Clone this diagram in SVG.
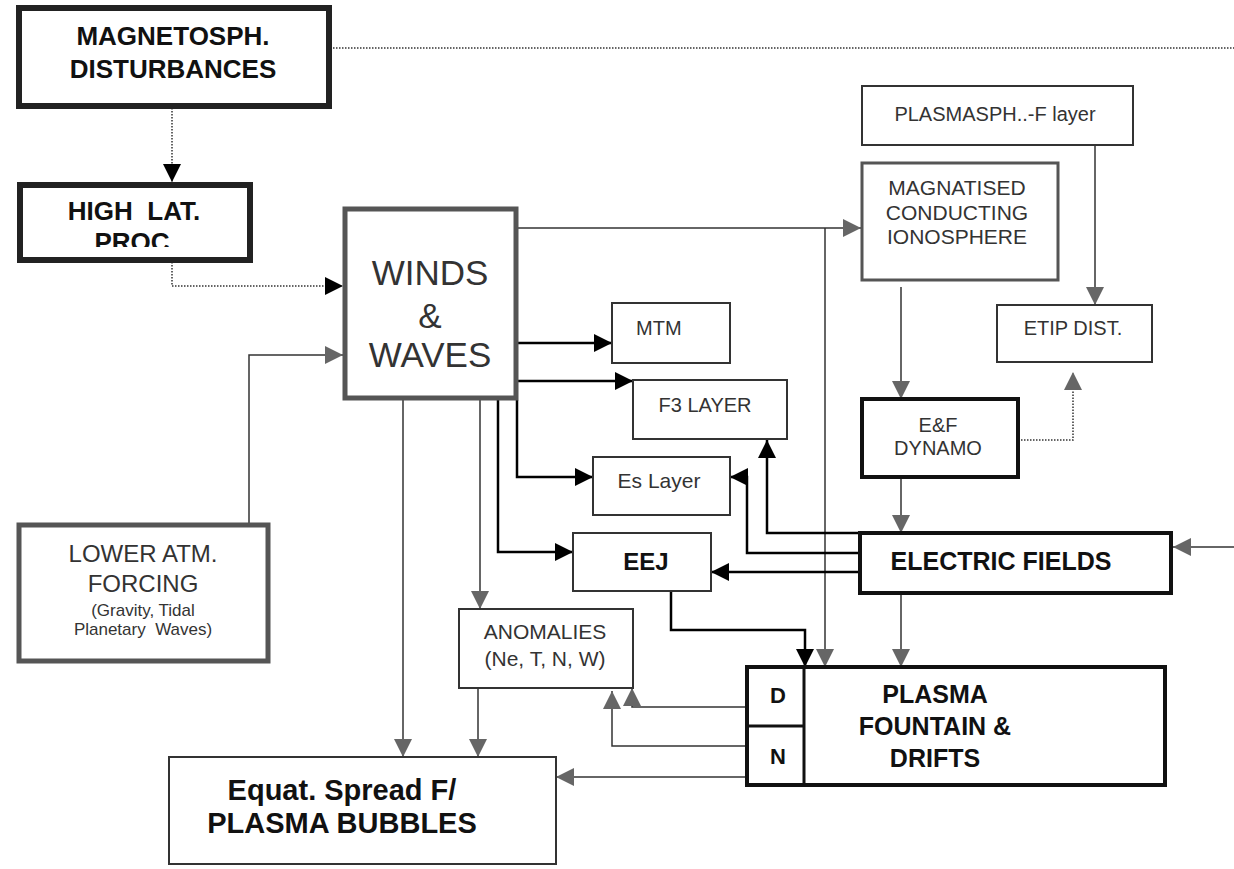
<svg xmlns="http://www.w3.org/2000/svg" width="1234" height="869" viewBox="0 0 1234 869">
<style>
.bg{fill:#fff}
.bx-thick{fill:#fff;stroke:#222;stroke-width:6}
.bx-gray{fill:#fff;stroke:#555;stroke-width:5}
.bx-mid{fill:#fff;stroke:#555;stroke-width:3}
.bx-thin{fill:#fff;stroke:#333;stroke-width:2}
.bx-blk{fill:#fff;stroke:#111;stroke-width:4}
.tb{font-family:"Liberation Sans",Arial,sans-serif;font-weight:bold;fill:#111;text-anchor:middle}
.tr{font-family:"Liberation Sans",Arial,sans-serif;fill:#333;text-anchor:middle}
.solid{fill:none;stroke:#000;stroke-width:2.5}
.thin{fill:none;stroke:#333;stroke-width:1.5}
.dot{fill:none;stroke:#333;stroke-width:1.5;stroke-dasharray:1.5 1.5}
</style>
<defs>
<marker id="ab" viewBox="0 0 10 10" refX="10" refY="5" markerWidth="18" markerHeight="18" markerUnits="userSpaceOnUse" orient="auto"><path d="M0,0 L10,5 L0,10 z" fill="#000"/></marker>
<marker id="ag" viewBox="0 0 10 10" refX="10" refY="5" markerWidth="18" markerHeight="18" markerUnits="userSpaceOnUse" orient="auto"><path d="M0,0 L10,5 L0,10 z" fill="#666"/></marker>
<clipPath id="procclip"><rect x="20" y="185" width="230" height="62"/></clipPath>
</defs>
<rect class="bg" x="0" y="0" width="1234" height="869"/>

<g id="connectors">
<path class="dot" d="M330,48 H1234"/>
<path class="dot" d="M172,108 V182" marker-end="url(#ab)"/>
<path class="dot" d="M172,262 V286 H343" marker-end="url(#ab)"/>
<path class="thin" d="M249,523 V355 H343" marker-end="url(#ag)"/>
<path class="thin" d="M518,228 H861" marker-end="url(#ag)"/>
<path class="thin" d="M825,228 V667" marker-end="url(#ag)"/>
<path class="solid" d="M518,343 H612" marker-end="url(#ab)"/>
<path class="solid" d="M518,381 H633" marker-end="url(#ab)"/>
<path class="solid" d="M517,400 V477 H593" marker-end="url(#ab)"/>
<path class="solid" d="M498,400 V552 H573" marker-end="url(#ab)"/>
<path class="thin" d="M480,400 V609" marker-end="url(#ag)"/>
<path class="thin" d="M403,400 V757" marker-end="url(#ag)"/>
<path class="thin" d="M478,688 V757" marker-end="url(#ag)"/>
<path class="thin" d="M747,707 H632 V688" marker-end="url(#ag)"/>
<path class="thin" d="M747,746 H612 V691" marker-end="url(#ag)"/>
<path class="thin" d="M747,777 H556" marker-end="url(#ag)"/>
<path class="solid" d="M671,591 V630 H805 V667" marker-end="url(#ab)"/>
<path class="thin" d="M901,287 V399" marker-end="url(#ag)"/>
<path class="thin" d="M1095,145 V305" marker-end="url(#ag)"/>
<path class="dot" d="M1018,440 H1073 V372" marker-end="url(#ag)"/>
<path class="thin" d="M901,477 V533" marker-end="url(#ag)"/>
<path class="thin" d="M1234,547 H1173" marker-end="url(#ag)"/>
<path class="solid" d="M860,533 H767 V440" marker-end="url(#ab)"/>
<path class="solid" d="M860,553 H747 V477 H730" marker-end="url(#ab)"/>
<path class="solid" d="M860,572 H711" marker-end="url(#ab)"/>
<path class="thin" d="M901,593 V667" marker-end="url(#ag)"/>
</g>

<g id="magnetosph">
<rect class="bx-thick" x="19" y="8" width="310" height="98"/>
<text class="tb" x="173" y="45" font-size="26">MAGNETOSPH.</text>
<text class="tb" x="173" y="78" font-size="26">DISTURBANCES</text>
</g>

<g id="highlat">
<rect class="bx-thick" x="20" y="185" width="230" height="75"/>
<text class="tb" x="134" y="220" font-size="26" xml:space="preserve">HIGH  LAT.</text>
<text class="tb" x="132" y="251" font-size="26" clip-path="url(#procclip)">PROC</text>
</g>

<g id="winds">
<rect class="bx-gray" x="345" y="209" width="171" height="189"/>
<text class="tr" x="430" y="285" font-size="35">WINDS</text>
<text class="tr" x="430" y="328" font-size="35">&amp;</text>
<text class="tr" x="430" y="367" font-size="35">WAVES</text>
</g>

<g id="lower">
<rect class="bx-gray" x="19" y="525" width="249" height="136"/>
<text class="tr" x="143" y="562" font-size="24">LOWER ATM.</text>
<text class="tr" x="143" y="592" font-size="24">FORCING</text>
<text class="tr" x="143" y="616" font-size="17">(Gravity, Tidal</text>
<text class="tr" x="143" y="635" font-size="17" xml:space="preserve">Planetary  Waves)</text>
</g>

<g id="plasmasph">
<rect class="bx-thin" x="862" y="86" width="271" height="59"/>
<text class="tr" x="995" y="121" font-size="20">PLASMASPH..-F layer</text>
</g>

<g id="magnatised">
<rect class="bx-mid" x="862" y="163" width="196" height="117"/>
<text class="tr" x="957" y="195" font-size="21">MAGNATISED</text>
<text class="tr" x="957" y="220" font-size="21">CONDUCTING</text>
<text class="tr" x="957" y="244" font-size="21">IONOSPHERE</text>
</g>

<g id="etip">
<rect class="bx-thin" x="997" y="305" width="155" height="57"/>
<text class="tr" x="1073" y="335" font-size="20">ETIP DIST.</text>
</g>

<g id="efdynamo">
<rect class="bx-blk" x="862" y="399" width="156" height="78"/>
<text class="tr" x="938" y="432" font-size="20">E&amp;F</text>
<text class="tr" x="938" y="455" font-size="20">DYNAMO</text>
</g>

<g id="mtm">
<rect class="bx-thin" x="612" y="303" width="118" height="60"/>
<text class="tr" x="636" y="335" font-size="20" style="text-anchor:start">MTM</text>
</g>

<g id="f3">
<rect class="bx-thin" x="633" y="380" width="154" height="59"/>
<text class="tr" x="705" y="412" font-size="20">F3 LAYER</text>
</g>

<g id="es">
<rect class="bx-thin" x="593" y="457" width="137" height="58"/>
<text class="tr" x="659" y="488" font-size="21">Es Layer</text>
</g>

<g id="eej">
<rect class="bx-thin" x="573" y="533" width="138" height="58"/>
<text class="tb" x="646" y="570" font-size="24">EEJ</text>
</g>

<g id="anomalies">
<rect class="bx-thin" x="459" y="609" width="174" height="79"/>
<text class="tr" x="545" y="639" font-size="21">ANOMALIES</text>
<text class="tr" x="545" y="666" font-size="21">(Ne, T, N, W)</text>
</g>

<g id="efields">
<rect class="bx-blk" x="860" y="533" width="311" height="60"/>
<text class="tb" x="1001" y="570" font-size="25">ELECTRIC FIELDS</text>
</g>

<g id="plasma">
<rect class="bx-blk" x="747" y="667" width="418" height="118"/>
<path d="M804,667 V785 M747,726 H804" fill="none" stroke="#111" stroke-width="3"/>
<text class="tb" x="778" y="703" font-size="22">D</text>
<text class="tb" x="778" y="764" font-size="22">N</text>
<text class="tb" x="935" y="703" font-size="25">PLASMA</text>
<text class="tb" x="935" y="735" font-size="25">FOUNTAIN &amp;</text>
<text class="tb" x="935" y="767" font-size="25">DRIFTS</text>
</g>

<g id="equat">
<rect class="bx-thin" x="169" y="757" width="387" height="107"/>
<text class="tb" x="342" y="800" font-size="29">Equat. Spread F/</text>
<text class="tb" x="342" y="833" font-size="29">PLASMA BUBBLES</text>
</g>
</svg>
